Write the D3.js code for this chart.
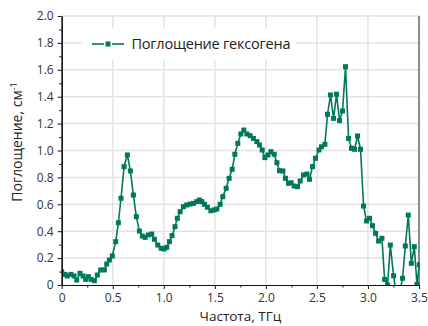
<!DOCTYPE html>
<html>
<head>
<meta charset="utf-8">
<script src="https://cdn.jsdelivr.net/npm/d3@7"></script>
<style>
  html, body { margin: 0; padding: 0; background: #fff; }
  svg { display: block; font-family: "Open Sans", "Noto Sans", sans-serif; }
</style>
</head>
<body>
<svg id="chart" width="428" height="326"></svg>
<script>
// Frequency, THz
const freq = [
  0.000, 0.032, 0.055, 0.091, 0.121, 0.147, 0.179, 0.209, 0.235, 0.261,
  0.287, 0.320, 0.349, 0.382, 0.418, 0.441, 0.467, 0.496, 0.529, 0.555,
  0.581, 0.611, 0.643, 0.673, 0.702, 0.731, 0.761, 0.790, 0.817, 0.849,
  0.882, 0.908, 0.941, 0.974, 1.003, 1.029, 1.055, 1.081, 1.110, 1.133,
  1.160, 1.192, 1.225, 1.258, 1.290, 1.324, 1.349, 1.373, 1.398, 1.427,
  1.461, 1.493, 1.520, 1.552, 1.578, 1.611, 1.640, 1.670, 1.696, 1.725,
  1.755, 1.784, 1.814, 1.846, 1.878, 1.912, 1.937, 1.964, 1.990, 2.020,
  2.049, 2.081, 2.108, 2.133, 2.167, 2.192, 2.222, 2.248, 2.277, 2.310,
  2.336, 2.369, 2.402, 2.427, 2.457, 2.486, 2.520, 2.545, 2.578, 2.604,
  2.633, 2.663, 2.692, 2.722, 2.751, 2.780, 2.810, 2.839, 2.869, 2.898,
  2.927, 2.957, 2.986, 3.016, 3.045, 3.075, 3.104, 3.137, 3.163, 3.192,
  3.219, 3.251, 3.280, 3.310, 3.339, 3.366, 3.395, 3.425, 3.454, 3.480,
  3.503
];
// Absorption, cm^-1
const absorption = [
  0.099, 0.079, 0.067, 0.079, 0.067, 0.037, 0.087, 0.067, 0.042, 0.062,
  0.042, 0.032, 0.074, 0.112, 0.112, 0.156, 0.186, 0.216, 0.322, 0.463,
  0.645, 0.880, 0.967, 0.848, 0.669, 0.508, 0.401, 0.364, 0.354, 0.372,
  0.379, 0.340, 0.297, 0.273, 0.268, 0.280, 0.322, 0.367, 0.434, 0.496,
  0.545, 0.582, 0.595, 0.602, 0.607, 0.620, 0.632, 0.620, 0.600, 0.578,
  0.552, 0.558, 0.565, 0.600, 0.657, 0.719, 0.793, 0.860, 0.972, 1.053,
  1.123, 1.152, 1.123, 1.110, 1.090, 1.066, 1.041, 1.004, 0.947, 0.967,
  0.991, 0.972, 0.909, 0.850, 0.848, 0.793, 0.756, 0.760, 0.736, 0.731,
  0.773, 0.818, 0.825, 0.786, 0.880, 0.942, 1.004, 1.028, 1.046, 1.269,
  1.413, 1.239, 1.418, 1.222, 1.294, 1.623, 1.090, 1.016, 1.009, 1.108,
  1.009, 0.587, 0.476, 0.496, 0.441, 0.384, 0.327, 0.347, 0.042, 0.000,
  0.297, 0.069, -0.080, -0.060, 0.050, 0.290, 0.520, 0.161, 0.285, 0.005,
  0.150
];
const xTicks = [0, 0.5, 1.0, 1.5, 2.0, 2.5, 3.0, 3.5];
const xTickLabels = ["0", "0.5", "1.0", "1.5", "2.0", "2.5", "3.0", "3.5"];
const yTicks = [0, 0.2, 0.4, 0.6, 0.8, 1.0, 1.2, 1.4, 1.6, 1.8, 2.0];
const yTickLabels = ["0", "0.2", "0.4", "0.6", "0.8", "1.0", "1.2", "1.4", "1.6", "1.8", "2.0"];
const xMinor = [0.25, 0.75, 1.25, 1.75, 2.25, 2.75, 3.25];
const yMinor = [0.1, 0.3, 0.5, 0.7, 0.9, 1.1, 1.3, 1.5, 1.7, 1.9];
const seriesName = "Поглощение гексогена";
const xTitle = "Частота, ТГц";
const yTitle = "Поглощение, см";

const color = "#00785a";
const L = 61.7, R = 419, T = 16, B = 285;
const svg = d3.select("#chart");
const x = d3.scaleLinear().domain([0, 3.5]).range([L, R]);
const y = d3.scaleLinear().domain([0, 2.0]).range([B, T]);

// grid
const grid = svg.append("g");
grid.selectAll(".gx").data(xTicks.slice(1)).enter().append("line")
  .attr("x1", d => x(d)).attr("x2", d => x(d)).attr("y1", T).attr("y2", B)
  .attr("stroke", "#e3e3e3").attr("stroke-width", 1.5);
grid.selectAll(".gy").data(yTicks.slice(1)).enter().append("line")
  .attr("x1", L).attr("x2", R).attr("y1", d => y(d)).attr("y2", d => y(d))
  .attr("stroke", "#e3e3e3").attr("stroke-width", 1.5);

// legend background
svg.append("rect").attr("x", 82).attr("y", 28).attr("width", 214).attr("height", 32).attr("fill", "#fff");

// right border
svg.append("line").attr("x1", x(3.5)).attr("x2", x(3.5)).attr("y1", T).attr("y2", B)
  .attr("stroke", "#8a8a8a").attr("stroke-width", 2);

// clip
svg.append("clipPath").attr("id", "clip").append("rect")
  .attr("x", L).attr("y", T).attr("width", R - L + 1).attr("height", B - T);

const data = freq.map((f, i) => ({ f, v: absorption[i] }));
const plot = svg.append("g").attr("clip-path", "url(#clip)");
plot.append("path").datum(data)
  .attr("d", d3.line().x(d => x(d.f)).y(d => y(d.v)))
  .attr("fill", "none").attr("stroke", color).attr("stroke-width", 1.6).attr("stroke-linejoin", "round");
plot.selectAll("rect.m").data(data).enter().append("rect")
  .attr("x", d => x(d.f) - 2.5).attr("y", d => y(d.v) - 2.5)
  .attr("width", 5).attr("height", 5).attr("fill", color);

// axes
const xAxis = svg.append("g").attr("transform", `translate(0,${B})`)
  .call(d3.axisBottom(x).tickValues(xTicks).tickFormat((d, i) => xTickLabels[i]).tickSize(4).tickSizeOuter(0));
const xAxisMinor = svg.append("g").attr("transform", `translate(0,${B})`)
  .call(d3.axisBottom(x).tickValues(xMinor).tickFormat("").tickSize(2.5).tickSizeOuter(0));
const yAxis = svg.append("g").attr("transform", `translate(${L},0)`)
  .call(d3.axisLeft(y).tickValues(yTicks).tickFormat((d, i) => yTickLabels[i]).tickSize(4).tickSizeOuter(0));
const yAxisMinor = svg.append("g").attr("transform", `translate(${L},0)`)
  .call(d3.axisLeft(y).tickValues(yMinor).tickFormat("").tickSize(2.5).tickSizeOuter(0));
[xAxis, yAxis, xAxisMinor, yAxisMinor].forEach(g => {
  g.selectAll("path.domain").attr("stroke", "#111").attr("stroke-width", 1.2);
  g.selectAll(".tick line").attr("stroke", "#111");
  g.selectAll("text").attr("font-size", 12).attr("fill", "#333")
    .attr("font-family", '"Open Sans", sans-serif');
});
xAxis.selectAll("text").attr("dy", "0.82em");
yAxis.selectAll("text").attr("dx", "-1px");

// titles
svg.append("text").attr("x", (L + R) / 2).attr("y", 321).attr("text-anchor", "middle")
  .attr("font-size", 13.5).attr("fill", "#222").text(xTitle);
const yt = svg.append("text").attr("transform", `translate(22,142) rotate(-90)`)
  .attr("text-anchor", "middle").attr("font-size", 14).attr("fill", "#222");
yt.append("tspan").text(yTitle);
yt.append("tspan").attr("dy", -5).attr("font-size", 9).text("-1");

// legend
const lg = svg.append("g");
lg.append("line").attr("x1", 92).attr("x2", 104).attr("y1", 44).attr("y2", 44).attr("stroke", color).attr("stroke-width", 1.6);
lg.append("line").attr("x1", 112).attr("x2", 124).attr("y1", 44).attr("y2", 44).attr("stroke", color).attr("stroke-width", 1.6);
lg.append("rect").attr("x", 105.5).attr("y", 41.5).attr("width", 5).attr("height", 5).attr("fill", color);
lg.append("text").attr("x", 131.5).attr("y", 49).attr("font-size", 14.5).attr("fill", "#222")
  .attr("textLength", 159).attr("lengthAdjust", "spacing").text(seriesName);
</script>
</body>
</html>
